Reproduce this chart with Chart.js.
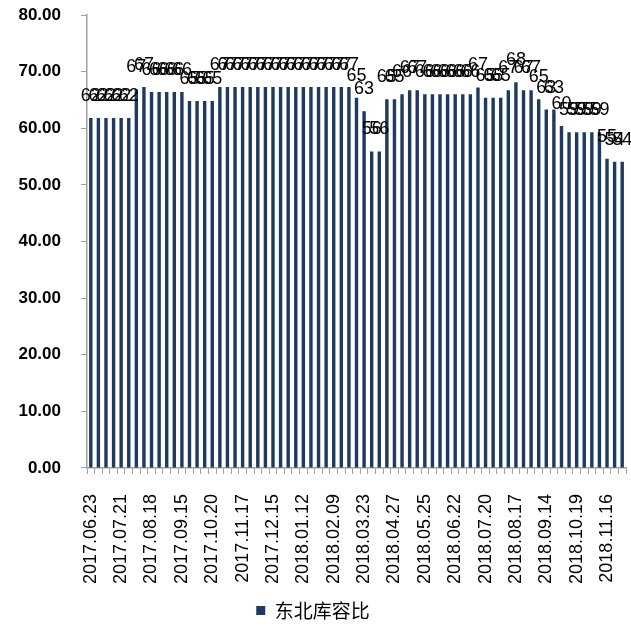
<!DOCTYPE html>
<html>
<head>
<meta charset="utf-8">
<script src="https://cdn.jsdelivr.net/npm/chart.js@4/dist/chart.umd.min.js"></script>
<style>
    body { margin: 0; background: #fff; }
    #wrap { width: 631px; height: 630px; }
</style>
</head>
<body>
<div id="wrap"><canvas id="stockChart"></canvas></div>
<script>
// weekly dates (holiday weeks missing in the source)
const dates = [
    '2017.06.23', '2017.06.30', '2017.07.07', '2017.07.14', '2017.07.21', '2017.07.28',
    '2017.08.04', '2017.08.11', '2017.08.18', '2017.08.25', '2017.09.01', '2017.09.08',
    '2017.09.15', '2017.09.22', '2017.09.29', '2017.10.13', '2017.10.20', '2017.10.27',
    '2017.11.03', '2017.11.10', '2017.11.17', '2017.11.24', '2017.12.01', '2017.12.08',
    '2017.12.15', '2017.12.22', '2017.12.29', '2018.01.05', '2018.01.12', '2018.01.19',
    '2018.01.26', '2018.02.02', '2018.02.09', '2018.03.02', '2018.03.09', '2018.03.16',
    '2018.03.23', '2018.03.30', '2018.04.13', '2018.04.20', '2018.04.27', '2018.05.04',
    '2018.05.11', '2018.05.18', '2018.05.25', '2018.06.01', '2018.06.08', '2018.06.15',
    '2018.06.22', '2018.06.29', '2018.07.06', '2018.07.13', '2018.07.20', '2018.07.27',
    '2018.08.03', '2018.08.10', '2018.08.17', '2018.08.24', '2018.08.31', '2018.09.07',
    '2018.09.14', '2018.09.21', '2018.09.28', '2018.10.12', '2018.10.19', '2018.10.26',
    '2018.11.02', '2018.11.09', '2018.11.16', '2018.11.23', '2018.11.30'
];

// 东北库容比 (%)
const ratioNE = [
    61.8, 61.8, 61.8, 61.8, 61.8, 61.8, 66.9, 67.3, 66.4, 66.4, 66.4, 66.4,
    66.4, 64.8, 64.8, 64.8, 64.8, 67.3, 67.3, 67.3, 67.3, 67.3, 67.3, 67.3,
    67.3, 67.3, 67.3, 67.3, 67.3, 67.3, 67.3, 67.3, 67.3, 67.3, 67.3, 65.4,
    63.0, 55.9, 55.9, 65.1, 65.1, 66.0, 66.7, 66.7, 66.0, 66.0, 66.0, 66.0,
    66.0, 66.0, 66.0, 67.2, 65.4, 65.4, 65.4, 66.7, 68.1, 66.7, 66.7, 65.1,
    63.3, 63.3, 60.4, 59.3, 59.3, 59.3, 59.3, 59.3, 54.6, 54.1, 54.1
];

const yTicks = [0, 10, 20, 30, 40, 50, 60, 70, 80];

// draw rounded values above each bar (no datalabels plugin available offline)
const barValueLabels = {
    id: 'barValueLabels',
    afterDatasetsDraw(chart) {
        const ctx = chart.ctx;
        ctx.save();
        ctx.font = '18px "Liberation Sans", Arial, sans-serif';
        ctx.fillStyle = '#000';
        ctx.textAlign = 'center';
        ctx.textBaseline = 'alphabetic';
        chart.getDatasetMeta(0).data.forEach((bar, i) => {
            ctx.fillText(String(Math.round(ratioNE[i])), bar.x, bar.y - 17);
        });
        ctx.restore();
    }
};

const ctx = document.getElementById('stockChart').getContext('2d');
new Chart(ctx, {
    type: 'bar',
    data: {
        labels: dates,
        datasets: [{
            label: '东北库容比',
            data: ratioNE,
            backgroundColor: '#1f3a60',
            borderWidth: 0,
            barPercentage: 0.45,
            categoryPercentage: 1.0
        }]
    },
    options: {
        responsive: true,
        maintainAspectRatio: false,
        animation: false,
        layout: {
            padding: { top: 15, left: 0, right: 5, bottom: 0 }
        },
        scales: {
            x: {
                grid: {
                    drawOnChartArea: false,
                    drawTicks: true,
                    tickLength: 6,
                    color: '#a0a0a0',
                    offset: true
                },
                border: { color: '#a0a0a0', width: 1.5 },
                ticks: {
                    autoSkip: false,
                    minRotation: 90,
                    maxRotation: 90,
                    padding: 20,
                    color: '#000',
                    font: { family: '"Liberation Sans", Arial, sans-serif', size: 18 },
                    callback: (value, index) => (index % 4 === 0 ? dates[index] : '')
                },
                afterFit: (scale) => {
                    scale.paddingLeft = 0;
                    scale.paddingRight = 0;
                    scale.height -= 13;
                }
            },
            y: {
                min: 0,
                max: 80,
                afterBuildTicks: (axis) => {
                    axis.ticks = yTicks.map(v => ({ value: v }));
                },
                grid: {
                    drawOnChartArea: false,
                    drawTicks: true,
                    tickLength: 6,
                    color: '#a0a0a0'
                },
                border: { color: '#a0a0a0', width: 1.5 },
                ticks: {
                    padding: 20,
                    color: '#000',
                    font: { family: '"Liberation Sans", Arial, sans-serif', size: 17, weight: 'bold' },
                    callback: (value) => Number(value).toFixed(2)
                },
                afterFit: (scale) => {
                    scale.width = 87;
                    scale.paddingTop = 0;
                    scale.paddingBottom = 0;
                }
            }
        },
        plugins: {
            legend: {
                position: 'bottom',
                labels: {
                    usePointStyle: true,
                    pointStyle: 'rect',
                    boxWidth: 9,
                    boxHeight: 9,
                    padding: 10,
                    color: '#000',
                    font: { family: '"Noto Sans CJK SC", sans-serif', size: 19 }
                }
            },
            tooltip: { enabled: false }
        }
    },
    plugins: [barValueLabels]
});
</script>
</body>
</html>
